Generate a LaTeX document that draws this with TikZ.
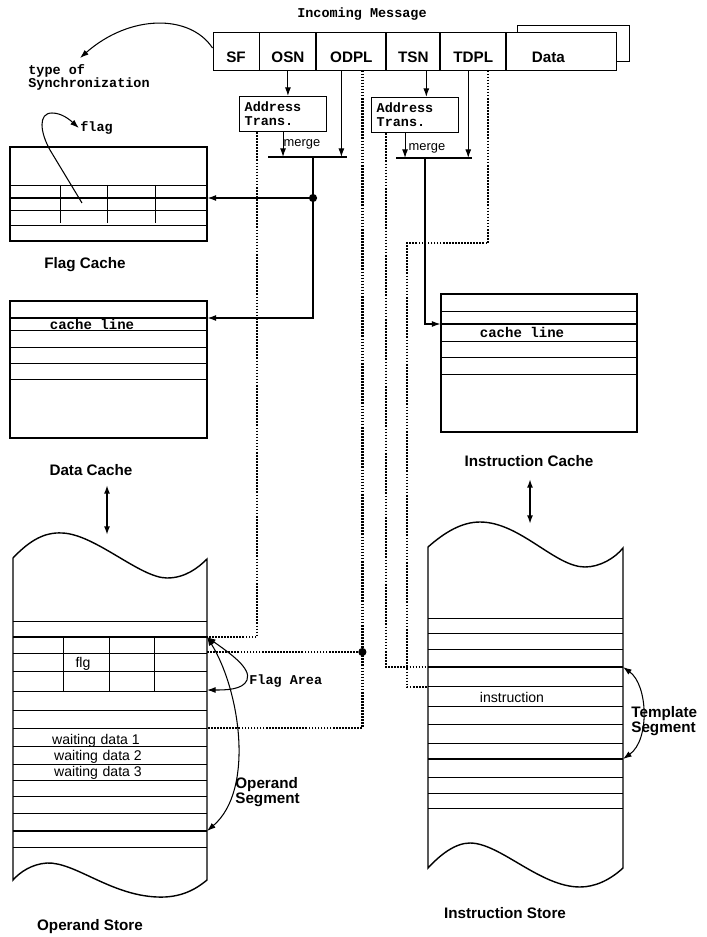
\documentclass[tikz,border=0pt]{standalone}
\usepackage{fontspec}
\setsansfont{Liberation Sans}
\setmonofont{Liberation Mono}
\usetikzlibrary{arrows.meta, positioning, calc}

\begin{document}
\begin{tikzpicture}[
    x=0.03cm, y=-0.03cm,
    line width=0.6pt,
    field/.style={draw, line width=0.8pt, inner sep=0pt, minimum height=1.14cm,
        text height=19pt, text depth=0pt,
        font=\sffamily\bfseries\fontsize{13}{14}\selectfont},
    trans/.style={draw, line width=0.9pt, inner xsep=0.155cm, inner ysep=0pt,
        minimum height=1.05cm, text width=2.3cm, align=left,
        font=\ttfamily\bfseries\fontsize{11.5}{12}\selectfont},
    cache/.style={draw, line width=0.9pt, inner sep=0pt},
    tt/.style={inner sep=0pt, font=\ttfamily\bfseries\fontsize{11.5}{11.5}\selectfont},
    title/.style={inner sep=0pt, font=\sffamily\bfseries\fontsize{13}{13}\selectfont},
    plain/.style={inner sep=0pt, font=\sffamily\fontsize{12}{14}\selectfont},
    flow/.style={-{Latex[length=2.6mm, width=1.8mm]}, line width=0.9pt},
    both/.style={{Latex[length=2.6mm, width=1.8mm]}-{Latex[length=2.6mm, width=1.8mm]},
        line width=0.9pt},
    ptr/.style={line width=2pt, dash pattern=on 1.4pt off 1.2pt},
    store/.style={line width=1.2pt},
    row/.style={line width=0.7pt},
    bigrow/.style={line width=1.5pt},
    dot/.style={circle, fill, inner sep=0pt, minimum size=7pt},
]
\useasboundingbox (0,0) rectangle (706,937);

% ---- incoming message ----
\node[tt] (msgtitle) at (362,14) {Incoming Message};
\node[field, minimum width=1.38cm] (sf) at (236,51) {SF};
\node[field, minimum width=1.68cm, right=0pt of sf]   (osn)  {OSN};
\node[field, minimum width=2.07cm, right=0pt of osn]  (odpl) {ODPL};
\node[field, minimum width=1.59cm, right=0pt of odpl] (tsn)  {TSN};
\node[field, minimum width=1.95cm, right=0pt of tsn]  (tdpl) {TDPL};
\node[field, minimum width=3.3cm,  right=0pt of tdpl] (data) {\hspace*{-0.8cm}Data};
\draw[line width=0.8pt] ([xshift=0.33cm]data.north west) -- ++(0,-6) -- ++(112,0)
    -- ++(0,36) -- ++(-13,0);

\node[tt, anchor=north west, align=left] (sync) at (28,64) {type of\\Synchronization};
\draw[flow] (sf.west |- 0,48) .. controls (190,14) and (130,14) .. ([shift={(-9,-6)}]sync.north);

% ---- address translation and merge ----
\node[trans, anchor=north west] (at1) at (239,96) {Address\\Trans.};
\node[trans, anchor=north west] (at2) at (371,97) {Address\\Trans.};

\coordinate (mg1w) at (268,157);
\coordinate (mg1e) at (347,157);
\coordinate (mg2w) at (396,158);
\coordinate (mg2e) at (472,158);
\draw[line width=1.1pt] (mg1w) -- (mg1e);
\draw[line width=1.1pt] (mg2w) -- (mg2e);

\coordinate (odplout) at ($(odpl.south)+(-10,0)$);
\coordinate (tsnout)  at ($(tsn.south)+(13,0)$);
\coordinate (tdplout) at ($(tdpl.south)+(-5,0)$);
\coordinate (at2out)  at ($(at2.south)+(-10,0)$);

\draw[flow] (osn.south) -- (osn.south |- at1.north);
\draw[flow] (tsnout) -- (tsnout |- at2.north);
\draw[flow] (at1.south) -- (at1.south |- mg1w);
\draw[flow] (odplout) -- (odplout |- mg1w);
\draw[flow] (at2out) -- (at2out |- mg2w);
\draw[flow] (tdplout) -- (tdplout |- mg2w);
\node[plain, font=\sffamily\fontsize{11}{12}\selectfont] (mg1lbl) at (302,144) {merge};
\node[plain, font=\sffamily\fontsize{11}{12}\selectfont] (mg2lbl) at (427,148) {merge};

% ---- flag cache ----
\node[cache, minimum width=5.91cm, minimum height=2.82cm] (fcache) at (108.5,194) {};
\foreach \y in {185,210,225} \draw[row] (fcache.west |- 0,\y) -- (fcache.east |- 0,\y);
\draw[bigrow] (fcache.west |- 0,198) -- (fcache.east |- 0,198);
\foreach \x in {60,107,155} \draw[row] (\x,185) -- (\x,223);
\node[title] (fclbl) at (85,265) {Flag Cache};

\coordinate (fptr) at (82,203);
\node[tt, anchor=west] (flaglbl) at (80,128) {flag};
\draw[flow] (fptr) -- (50,150) .. controls (40,132) and (38,113) .. (52,113)
    .. controls (62,113) and (70,120) .. ([xshift=-1pt]flaglbl.west);

% ---- data cache ----
\node[cache, minimum width=5.91cm, minimum height=4.11cm] (dcache) at (108.5,369.5) {};
\foreach \y in {330,347,363,379} \draw[row] (dcache.west |- 0,\y) -- (dcache.east |- 0,\y);
\draw[bigrow] (dcache.west |- 0,318) -- (dcache.east |- 0,318);
\node[tt, font=\ttfamily\bfseries\fontsize{12}{12}\selectfont] (dcline) at (92,324) {cache line};
\node[title] (dclbl) at (91,470) {Data Cache};

\node[dot] (j1) at (313,198) {};
\coordinate (dcin) at (dcache.east |- 0,318);
\draw[line width=0.9pt] (j1 |- mg1w) -- (j1);
\draw[flow] (j1) -- (j1 -| fcache.east);
\draw[flow] (j1) |- (dcin);

% ---- instruction cache ----
\node[cache, minimum width=5.88cm, minimum height=4.14cm] (icache) at (539,363) {};
\foreach \y in {311,341,357,374} \draw[row] (icache.west |- 0,\y) -- (icache.east |- 0,\y);
\draw[bigrow] (icache.west |- 0,324) -- (icache.east |- 0,324);
\node[tt, font=\ttfamily\bfseries\fontsize{12}{12}\selectfont] (icline) at (522,332) {cache line};
\node[title] (iclbl) at (529,461) {Instruction Cache};

\coordinate (mg2o) at (425,158);
\coordinate (icin) at (icache.west |- 0,324);
\draw[flow] (mg2o) |- (icin);

% ---- operand store ----
\draw[store] (13,558) .. controls (30,540) and (45,532) .. (62,533)
    .. controls (95,534) and (140,578) .. (167,578)
    .. controls (185,578) and (198,568) .. (207,559) -- (207,880)
    .. controls (195,890) and (180,898) .. (157,897)
    .. controls (110,895) and (75,862) .. (47,863)
    .. controls (32,864) and (20,872) .. (13,880) -- cycle;
\foreach \y in {621,653,671,691,710,728,746,764,780,796,813,847} \draw[row] (13,\y) -- (207,\y);
\foreach \y in {637,831} \draw[bigrow] (13,\y) -- (207,\y);
\foreach \x in {63,109,154} \draw[row] (\x,637) -- (\x,691);
\node[plain] (flg) at (83,664) {flg};
\node[plain] (wd1) at (96,741) {waiting\,\,data 1};
\node[plain] (wd2) at (98,757) {waiting\,\,data 2};
\node[plain] (wd3) at (98,773) {waiting\,\,data 3};
\node[title] (oslbl) at (90,927) {Operand Store};

\coordinate (osin)   at (107,535);
\coordinate (osflag) at (207,637);
\coordinate (osfend) at (207,690);
\coordinate (oswait) at (207,728);
\coordinate (osend)  at (207,831);
\draw[both, line width=1.4pt] (osin |- 0,485) -- (osin);

\draw[both] (osflag) .. controls (228,652) and (252,668) .. (247,680)
    .. controls (243,690) and (225,690) .. (osfend);
\node[tt, anchor=west] (falbl) at (249,681) {Flag Area};
\draw[both] (osflag) .. controls (240,690) and (255,790) .. (osend);
\node[title, anchor=north west, align=left] (oslbl2) at (235,777) {Operand\\Segment};

% ---- instruction store ----
\draw[store] (428,547) .. controls (445,532) and (462,522) .. (480,522)
    .. controls (520,522) and (555,567) .. (585,567)
    .. controls (600,567) and (615,558) .. (623,548) -- (623,868)
    .. controls (610,880) and (595,887) .. (580,887)
    .. controls (540,887) and (500,843) .. (470,843)
    .. controls (455,843) and (440,855) .. (428,868) -- cycle;
\foreach \y in {618,633,649,686,706,724,743,777,793,808} \draw[row] (428,\y) -- (623,\y);
\foreach \y in {667,759} \draw[bigrow] (428,\y) -- (623,\y);
\node[plain] (instr) at (512,697) {instruction};
\node[title] (islbl) at (505,913) {Instruction Store};

\coordinate (isin)   at (530,524);
\coordinate (isseg)  at (428,667);
\coordinate (isinst) at (428,687);
\coordinate (istop)  at (623,667);
\coordinate (isend)  at (623,759);
\draw[both, line width=1.4pt] (isin |- 0,479) -- (isin);

\draw[both] (istop) .. controls (648,685) and (650,740) .. (isend);
\node[title, anchor=north west, align=left] (tslbl) at (631,706) {Template\\Segment};

% ---- dotted address lines ----
\coordinate (at1p)  at ($(at1.south west)+(18,0)$);
\coordinate (odplp) at ($(odpl.south)+(11,0)$);
\coordinate (at2p)  at ($(at2.south west)+(15,0)$);
\coordinate (tdplp) at ($(tdpl.south)+(15,0)$);
\draw[ptr] (at1p) |- (osflag);
\draw[ptr] (odplp) |- (oswait);
\node[dot] (j2) at (odplp |- 0,652) {};
\draw[ptr] (j2) -- (j2 -| osflag);
\draw[ptr] (at2p) |- (isseg);
\draw[ptr] (tdplp) |- (407,243) |- (isinst);

\end{tikzpicture}
\end{document}
